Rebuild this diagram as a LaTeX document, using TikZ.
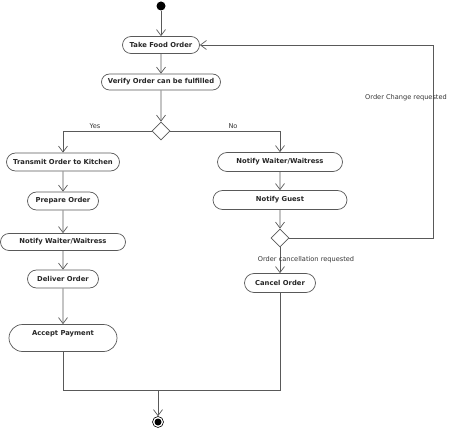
\documentclass[tikz,border=0pt]{standalone}
\usepackage{fontspec}
\setmainfont{DejaVu Sans}
\usetikzlibrary{arrows.meta,shapes.misc,shapes.geometric}
\begin{document}
\begin{tikzpicture}[x=1pt,y=-1pt,
  lc/.style={draw=black!65,line width=0.7pt},
  act/.style={rounded rectangle,lc,fill=white,inner sep=0pt,
    font=\fontsize{6.8}{8}\selectfont\bfseries,text=black!85},
  dec/.style={diamond,lc,fill=white,minimum width=18pt,minimum height=18pt,inner sep=0pt},
  flow/.style={lc,-{Straight Barb[length=6pt,width=9pt]}},
  line/.style={lc},
  lbl/.style={font=\fontsize{6.6}{8}\selectfont,text=black!80,inner sep=0pt}]
\useasboundingbox (0,0) rectangle (449,430);

\node[circle,fill=black,inner sep=0pt,minimum size=9pt] (start) at (161,6) {};
\node[act,minimum width=77pt,minimum height=17pt] (take) at (161,45) {Take Food Order};
\node[act,minimum width=119pt,minimum height=16pt] (verify) at (161,82) {Verify Order can be fulfilled};
\node[dec] (d1) at (161,131) {};

\node[act,minimum width=113pt,minimum height=18pt] (transmit) at (63,162) {Transmit Order to Kitchen};
\node[act,minimum width=71pt,minimum height=18pt] (prepare) at (63,201) {Prepare Order};
\node[act,minimum width=125pt,minimum height=17pt] (notifyL) at (63,242) {Notify Waiter/Waitress};
\node[act,minimum width=71pt,minimum height=18pt] (deliver) at (63,279) {Deliver Order};
\node[act,minimum width=108pt,minimum height=27pt,text depth=10pt] (accept) at (63,338) {Accept Payment};

\node[act,minimum width=125pt,minimum height=19pt] (notifyR) at (280,162) {Notify Waiter/Waitress};
\node[act,minimum width=134pt,minimum height=19pt] (guest) at (280,200) {Notify Guest};
\node[dec] (d2) at (280,238) {};
\node[act,minimum width=71pt,minimum height=19pt] (cancel) at (280,283) {Cancel Order};

\coordinate (merge) at (158,390);
\coordinate (rb) at (433,238);
\coordinate (rt) at (433,45);
\node[circle,draw=black,line width=0.6pt,fill=white,inner sep=0pt,minimum size=11pt] (end) at (158,422) {};
\node[circle,fill=black,inner sep=0pt,minimum size=7pt] at (end.center) {};

\draw[flow] (start) -- (take);
\draw[flow] (take) -- (verify);
\draw[flow] (verify) -- (d1);
\draw[flow] (d1.west) -| (transmit.north);
\draw[flow] (d1.east) -| (notifyR.north);
\node[lbl] (yes) at (95,126) {Yes};
\node[lbl] (no) at (233,126) {No};

\draw[flow] (transmit) -- (prepare);
\draw[flow] (prepare) -- (notifyL);
\draw[flow] (notifyL) -- (deliver);
\draw[flow] (deliver) -- (accept);

\draw[flow] (notifyR) -- (guest);
\draw[flow] (guest) -- (d2);
\draw[flow] (d2) -- (cancel);
\node[lbl] (cancl) at (306,260) {Order cancellation requested};

\draw[flow] (d2.east) -- (rb) -- (rt) -- (take.east);
\node[lbl] (chg) at (406,98) {Order Change requested};

\draw[line] (accept.south) |- (merge);
\draw[line] (cancel.south) |- (merge);
\draw[flow] (merge) -- (end);
\end{tikzpicture}
\end{document}
